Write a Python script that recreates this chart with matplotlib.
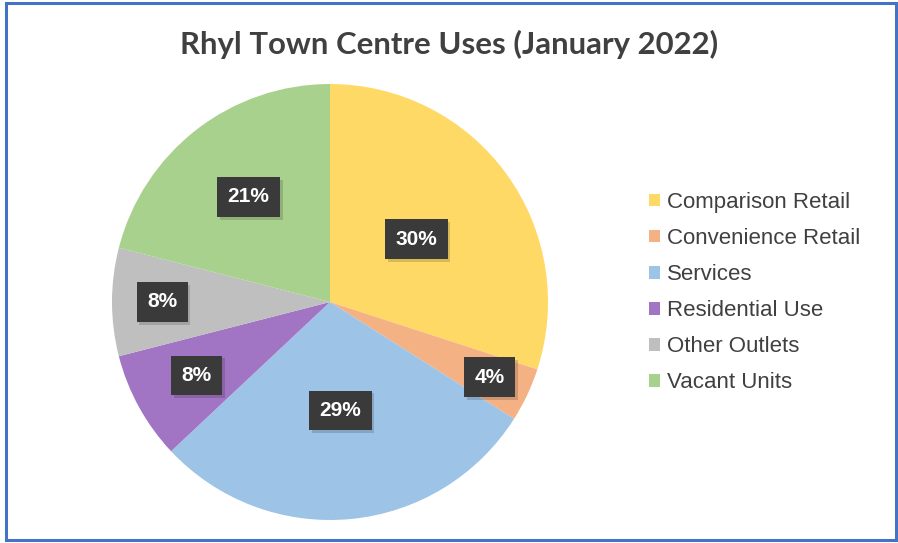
import matplotlib
matplotlib.use("Agg")
import matplotlib.pyplot as plt
import numpy as np
from matplotlib.patches import Rectangle
import matplotlib.patheffects as pe

categories = ["Comparison Retail", "Convenience Retail", "Services",
              "Residential Use", "Other Outlets", "Vacant Units"]
values = [30, 4, 29, 8, 8, 21]
value_labels = ["30%", "4%", "29%", "8%", "8%", "21%"]
colors = ["#FFD966", "#F4B183", "#9DC3E6", "#A275C4", "#BFBFBF", "#A9D18E"]
label_radii = [0.49, 0.81, 0.50, 0.70, 0.77, 0.61]

W, H = 898, 543
fig = plt.figure(figsize=(W / 100, H / 100), dpi=100)

# outer blue frame
fig.patches.append(Rectangle((6 / W, 3 / H), (W - 8) / W, (H - 6) / H,
                             transform=fig.transFigure, fill=False,
                             edgecolor="#4472C4", linewidth=2.2, zorder=10))

cx, cy, r = 330, 302, 218
ax = fig.add_axes([(cx - r) / W, (H - cy - r) / H, 2 * r / W, 2 * r / H])
wedges, _ = ax.pie(values, colors=colors, startangle=90, counterclock=False,
                   radius=1.0, wedgeprops=dict(linewidth=0))
ax.set_xlim(-1, 1)
ax.set_ylim(-1, 1)
ax.set_aspect("equal")
ax.axis("off")

for w, lab, rr in zip(wedges, value_labels, label_radii):
    ang = np.deg2rad((w.theta1 + w.theta2) / 2)
    x, y = rr * np.cos(ang), rr * np.sin(ang)
    t = ax.text(x, y, lab, ha="center", va="center", color="white",
                fontsize=15, fontweight="bold", family="Liberation Sans",
                bbox=dict(boxstyle="square,pad=0.5", fc="#3A3A3A", ec="none"))
    t.get_bbox_patch().set_path_effects([
        pe.SimplePatchShadow(offset=(2, -2), shadow_rgbFace="#000000", alpha=0.15),
        pe.Normal()])

fig.text(0.5, 1 - 44 / H, "Rhyl Town Centre Uses (January 2022)",
         ha="center", va="center", fontsize=22.4, fontweight="bold",
         family="Lato", color="#404040")

handles = [Rectangle((0, 0), 1, 1, fc=c, ec="none") for c in colors]
leg = fig.legend(handles, categories, loc="upper left",
                 bbox_to_anchor=(640 / W, 1 - 183 / H), frameon=False,
                 prop=dict(family="Liberation Sans", size=16),
                 handlelength=0.5, handleheight=0.5, handletextpad=0.3,
                 labelspacing=0.68, borderaxespad=0)
for txt in leg.get_texts():
    txt.set_color("#404040")

fig.savefig("out.png", dpi=100)
